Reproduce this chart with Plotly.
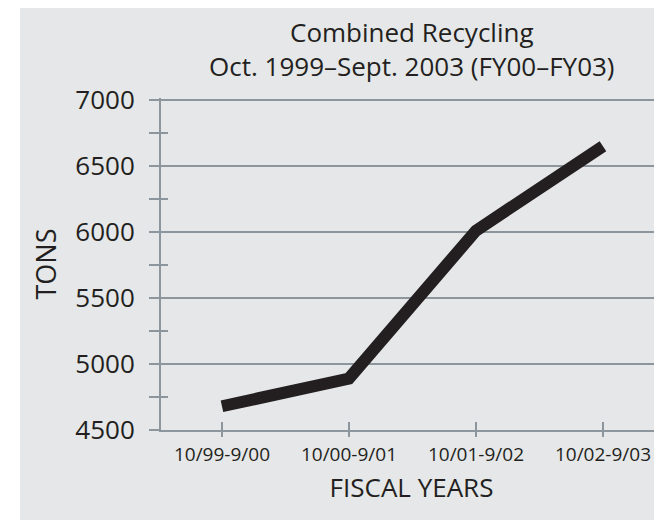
import plotly.graph_objects as go

categories = ["10/99-9/00", "10/00-9/01", "10/01-9/02", "10/02-9/03"]
tons = [4680, 4890, 6010, 6650]
y_major_ticks = [4500, 5000, 5500, 6000, 6500, 7000]
y_minor_ticks = [4750, 5250, 5750, 6250, 6750]

title_line1 = "Combined Recycling"
title_line2 = "Oct. 1999–Sept. 2003 (FY00–FY03)"
x_title = "FISCAL YEARS"
y_title = "TONS"

TXT = "#231f20"
GRID = "#8d969c"
BG = "#e6e7e8"
FONT = "Open Sans"

# the page body adds an 8px margin, so the figure is 8px smaller each way
W, H = 654, 512
L, R, T, B = 153, 0, 90, 90
pw = W - L - R
ph = H - T - B

xr = [-0.48, 3.465]
yr = [4500, 7015]

fig = go.Figure()
fig.add_trace(go.Scatter(
    x=categories, y=tons, mode="lines",
    line=dict(color=TXT, width=12),
    hoverinfo="skip", showlegend=False,
))
# invisible trace to activate overlay axes (for crossing tick marks)
fig.add_trace(go.Scatter(
    x=categories, y=tons, mode="lines", xaxis="x2", yaxis="y2",
    line=dict(color="rgba(0,0,0,0)", width=0),
    hoverinfo="skip", showlegend=False,
))

fig.update_layout(
    width=W, height=H,
    margin=dict(l=L, r=R, t=T, b=B, pad=0),
    paper_bgcolor="white",
    plot_bgcolor="rgba(0,0,0,0)",
    font=dict(family=FONT, color=TXT),
    showlegend=False,
    xaxis=dict(
        type="category", categoryorder="array", categoryarray=categories,
        range=xr, showgrid=False, zeroline=False,
        showline=True, linecolor=GRID, linewidth=2,
        ticks="outside", ticklen=5, tickwidth=2, tickcolor=GRID,
        tickfont=dict(size=19, color=TXT, family=FONT),
        ticklabelstandoff=1,
        title=dict(text=x_title, font=dict(size=26, color=TXT, family=FONT), standoff=13),
    ),
    yaxis=dict(
        range=yr, tickvals=y_major_ticks,
        showgrid=True, gridcolor=GRID, gridwidth=2, zeroline=False,
        showline=True, linecolor=GRID, linewidth=2,
        ticks="outside", ticklen=10, tickwidth=2, tickcolor=GRID,
        minor=dict(tickvals=y_minor_ticks, ticks="outside", ticklen=10,
                   tickwidth=2, tickcolor=GRID, showgrid=False),
        tickfont=dict(size=26, color=TXT, family=FONT),
        ticklabelstandoff=9,
        title=dict(text=y_title, font=dict(size=27, color=TXT, family=FONT), standoff=11),
    ),
    xaxis2=dict(
        type="category", categoryorder="array", categoryarray=categories,
        range=xr, overlaying="x", anchor="y2", side="bottom",
        showgrid=False, zeroline=False, showline=False,
        ticks="inside", ticklen=8, tickwidth=2, tickcolor=GRID,
        showticklabels=False,
    ),
    yaxis2=dict(
        range=yr, overlaying="y", anchor="x2", side="left",
        tickvals=y_minor_ticks,
        showgrid=False, zeroline=False, showline=False,
        ticks="inside", ticklen=7, tickwidth=2, tickcolor=GRID,
        showticklabels=False,
    ),
    shapes=[dict(
        type="rect", xref="paper", yref="paper", layer="below",
        x0=(12 - L) / pw, x1=1.0,
        y0=-(B / ph), y1=(H - B) / ph,
        fillcolor=BG, line=dict(width=0),
    )],
    annotations=[
        dict(text=title_line1, xref="paper", yref="paper", x=0.5,
             y=(H - B - 24) / ph, xanchor="center", yanchor="middle",
             showarrow=False, font=dict(size=26, color=TXT, family=FONT)),
        dict(text=title_line2, xref="paper", yref="paper", x=0.5,
             y=(H - B - 58) / ph, xanchor="center", yanchor="middle",
             showarrow=False, font=dict(size=26, color=TXT, family=FONT)),
    ],
)

fig.write_html("out.html")
